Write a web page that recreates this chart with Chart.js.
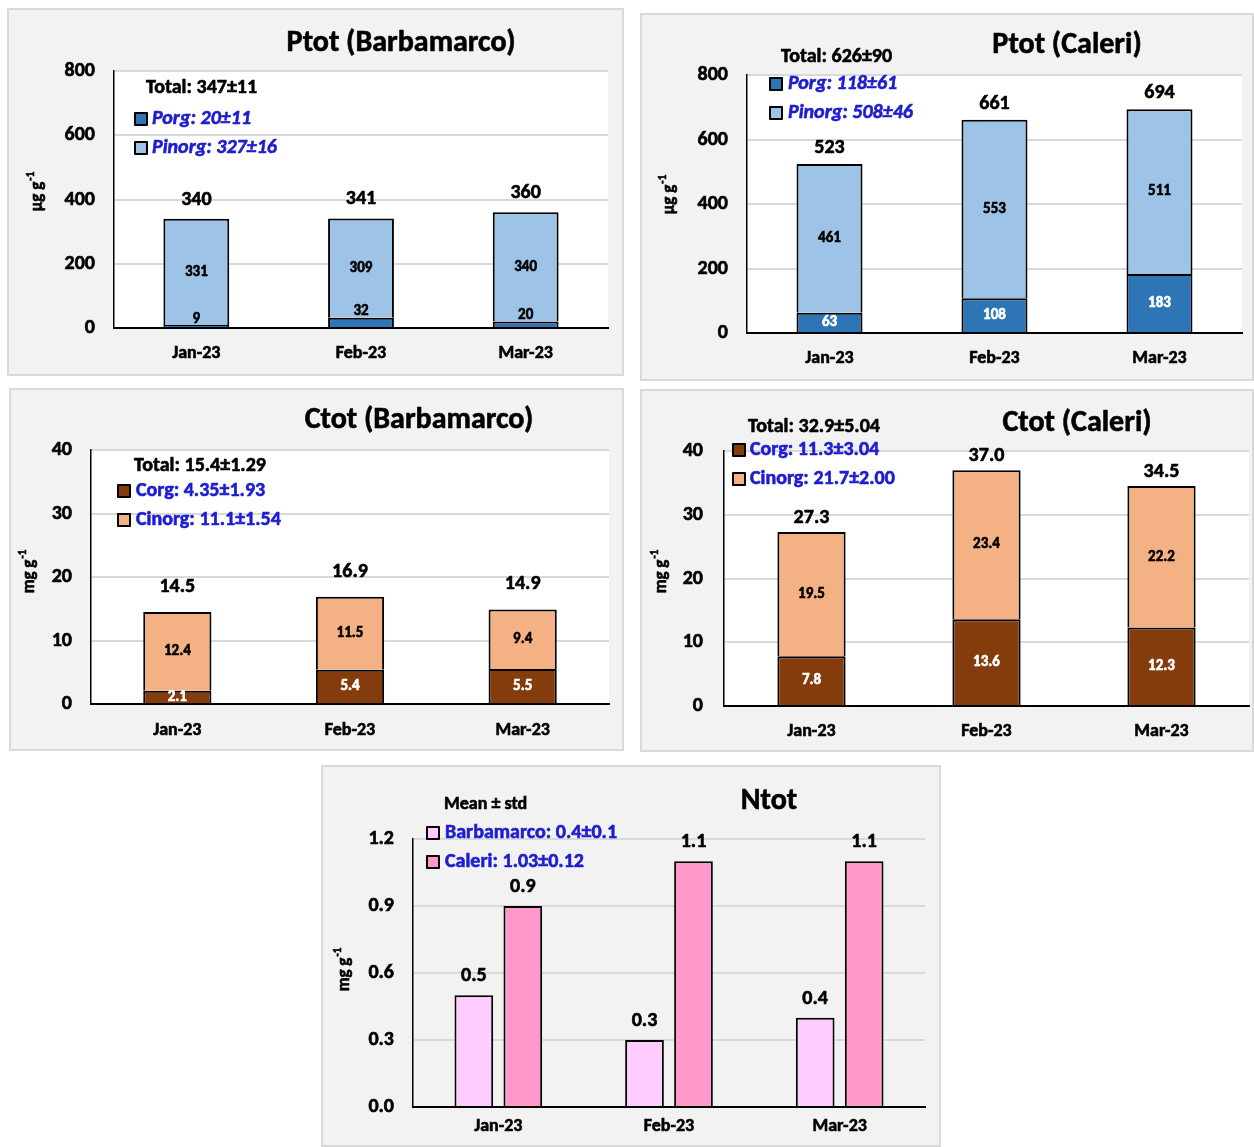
<!DOCTYPE html>
<html>
<head>
<meta charset="utf-8">
<script src="https://cdn.jsdelivr.net/npm/chart.js@4.4.1/dist/chart.umd.min.js"></script>
<style>
  html, body { margin: 0; padding: 0; background: #ffffff; }
  body { width: 1254px; height: 1147px; position: relative; overflow: hidden; }
  .panel { position: absolute; box-sizing: border-box; background: #f2f2f2; border: 2px solid #d9d9d9; }
  canvas { position: absolute; }
</style>
</head>
<body>
<script>
// ---- data ----
const months = ['Jan-23', 'Feb-23', 'Mar-23'];

const ptotBarbPorg   = [9, 32, 20];
const ptotBarbPinorg = [331, 309, 340];
const ptotBarbTotal  = [340, 341, 360];

const ptotCalPorg    = [63, 108, 183];
const ptotCalPinorg  = [461, 553, 511];
const ptotCalTotal   = [523, 661, 694];

const ctotBarbCorg   = [2.1, 5.4, 5.5];
const ctotBarbCinorg = [12.4, 11.5, 9.4];
const ctotBarbTotal  = [14.5, 16.9, 14.9];

const ctotCalCorg    = [7.8, 13.6, 12.3];
const ctotCalCinorg  = [19.5, 23.4, 22.2];
const ctotCalTotal   = [27.3, 37.0, 34.5];

const ntotBarb = [0.5, 0.3, 0.4];
const ntotCal  = [0.9, 1.1, 1.1];

const ptotTicks = [0, 200, 400, 600, 800];
const ctotTicks = [0, 10, 20, 30, 40];
const ntotTicks = [0.0, 0.3, 0.6, 0.9, 1.2];

// ---- styling ----
const FONT = 'Carlito, Calibri, Lato, sans-serif';
const BLUE_TEXT = '#1c1cd0';
const C_PORG = '#2e75b6', C_PINORG = '#9dc3e6';
const C_CORG = '#843c0c', C_CINORG = '#f4b183';
const C_NBARB = '#ffccff', C_NCAL = '#ff99cc';
const STROKE = 0.6;   // slight outline to give the bold text more weight

function font(size, style) {
  return (style || 'bold') + ' ' + size + 'px ' + FONT;
}

function drawText(ctx, s, x, y, color) {
  ctx.fillStyle = color;
  ctx.strokeStyle = color;
  ctx.lineWidth = STROKE;
  ctx.lineJoin = 'round';
  ctx.strokeText(s, x, y);
  ctx.fillText(s, x, y);
}

// Decoration plugin: white plot area, value labels, title, in-plot legend, unit label
function deco(cfg) {
  const ox = cfg.box.x, oy = cfg.box.y;
  return {
    id: 'deco',
    beforeDraw(chart) {
      if (!cfg.whiteArea) return;
      const a = chart.chartArea, ctx = chart.ctx;
      ctx.save();
      ctx.fillStyle = '#ffffff';
      ctx.fillRect(a.left, a.top, a.right - a.left, a.bottom - a.top);
      ctx.restore();
    },
    afterDatasetsDraw(chart) {
      const ctx = chart.ctx;
      ctx.save();
      ctx.textAlign = 'center';
      ctx.textBaseline = 'middle';
      chart.data.datasets.forEach((ds, di) => {
        const spec = cfg.labels[di];
        if (!spec) return;
        const meta = chart.getDatasetMeta(di);
        meta.data.forEach((el, i) => {
          const v = ds.data[i];
          const txt = spec.fmt ? spec.fmt(v) : String(v);
          const y = spec.mode === 'above' ? el.y - spec.offset : (el.y + el.base) / 2;
          ctx.font = font(spec.size);
          drawText(ctx, txt, el.x, y, spec.color);
        });
      });
      // stack totals
      if (cfg.totals) {
        const ys = chart.scales.y;
        const meta = chart.getDatasetMeta(0);
        ctx.font = font(20);
        cfg.totals.values.forEach((t, i) => {
          const x = meta.data[i].x;
          const y = ys.getPixelForValue(t) - cfg.totals.offset;
          drawText(ctx, cfg.totals.fmt ? cfg.totals.fmt(t) : String(t), x, y, '#000');
        });
      }
      ctx.restore();
    },
    afterDraw(chart) {
      const ctx = chart.ctx;
      ctx.save();
      // title
      ctx.font = font(cfg.title.size);
      ctx.textAlign = 'center';
      ctx.textBaseline = 'middle';
      drawText(ctx, cfg.title.text, cfg.title.x - ox, cfg.title.y - oy, '#000');
      // header line of the legend
      ctx.textAlign = 'left';
      ctx.font = font(cfg.head.size);
      drawText(ctx, cfg.head.text, cfg.head.x - ox, cfg.head.y - oy, '#000');
      // legend entries
      cfg.legend.forEach(e => {
        const mx = e.mx - ox, my = e.y - oy;
        ctx.fillStyle = e.color;
        ctx.fillRect(mx, my - 6, 12, 12);
        ctx.strokeStyle = '#000';
        ctx.lineWidth = 2;
        ctx.strokeRect(mx, my - 6, 12, 12);
        ctx.font = font(cfg.legendSize, cfg.legendItalic ? 'italic bold' : 'bold');
        drawText(ctx, e.text, e.tx - ox, my, BLUE_TEXT);
      });
      // rotated unit label with superscript
      ctx.translate(cfg.unit.x - ox, cfg.unit.y - oy);
      ctx.rotate(-Math.PI / 2);
      ctx.font = font(17);
      const w1 = ctx.measureText(cfg.unit.text).width;
      ctx.font = font(11);
      const w2 = ctx.measureText('-1').width;
      const start = -(w1 + w2) / 2;
      ctx.textAlign = 'left';
      ctx.font = font(17);
      drawText(ctx, cfg.unit.text, start, 0, '#000');
      ctx.font = font(11);
      drawText(ctx, '-1', start + w1 + 1, -7, '#000');
      ctx.restore();
    }
  };
}

function makePanel(cfg) {
  const div = document.createElement('div');
  div.className = 'panel';
  Object.assign(div.style, { left: cfg.box.x + 'px', top: cfg.box.y + 'px', width: cfg.box.w + 'px', height: cfg.box.h + 'px' });
  document.body.appendChild(div);
  const cv = document.createElement('canvas');
  cv.width = cfg.box.w; cv.height = cfg.box.h;
  Object.assign(cv.style, { left: cfg.box.x + 'px', top: cfg.box.y + 'px', width: cfg.box.w + 'px', height: cfg.box.h + 'px' });
  document.body.appendChild(cv);

  const a = cfg.area, b = cfg.box;
  const ticks = cfg.ticks;
  new Chart(cv.getContext('2d'), {
    type: 'bar',
    data: { labels: months, datasets: cfg.datasets },
    options: {
      responsive: false,
      animation: false,
      devicePixelRatio: 1,
      layout: { padding: { left: 0, bottom: 0, top: a.t - b.y, right: (b.x + b.w) - a.r } },
      plugins: { legend: { display: false }, tooltip: { enabled: false }, title: { display: false } },
      scales: {
        x: {
          stacked: cfg.stacked,
          grid: { display: false, drawTicks: false },
          border: { display: true, color: '#000', width: 2 },
          ticks: { color: '#000', font: { family: FONT, size: 18, weight: 'bold' }, padding: cfg.xPad,
                   textStrokeColor: '#000', textStrokeWidth: STROKE },
          afterFit(s) { s.height = (b.y + b.h) - a.b; }
        },
        y: {
          stacked: cfg.stacked,
          min: ticks[0],
          max: ticks[ticks.length - 1],
          afterBuildTicks(s) { s.ticks = ticks.map(v => ({ value: v })); },
          ticks: {
            color: '#000',
            font: { family: FONT, size: 20, weight: 'bold' },
            padding: cfg.yPad,
            textStrokeColor: '#000', textStrokeWidth: STROKE,
            callback: v => cfg.tickFmt ? cfg.tickFmt(v) : String(v)
          },
          grid: {
            drawTicks: false,
            lineWidth: 2,
            color: c => (c.tick && c.tick.value === 0) ? 'rgba(0,0,0,0)' : '#d9d9d9'
          },
          border: { display: true, color: '#000', width: 1.5 },
          afterFit(s) { s.width = a.l - b.x; }
        }
      }
    },
    plugins: [deco(cfg)]
  });
}

// bars outlined in black; the joint between stacked segments carries a single line
const BAR_BORDER = { top: 2, left: 2, right: 2, bottom: 0 };

function stackSet(label, data, color, pct) {
  return { label, data, backgroundColor: color, borderColor: '#000', borderWidth: BAR_BORDER, borderSkipped: false,
           categoryPercentage: 1.0, barPercentage: pct };
}

// Ptot (Barbamarco)
makePanel({
  box: { x: 7, y: 8, w: 617, h: 368 },
  area: { l: 114, t: 71, r: 608, b: 328 },
  whiteArea: true, stacked: true, ticks: ptotTicks, xPad: 15, yPad: 19,
  datasets: [stackSet('Porg', ptotBarbPorg, C_PORG, 0.4), stackSet('Pinorg', ptotBarbPinorg, C_PINORG, 0.4)],
  labels: [
    { mode: 'above', offset: 6, size: 15, color: '#000' },
    { mode: 'center', size: 15, color: '#000' }
  ],
  totals: { values: ptotBarbTotal, offset: 19 },
  title: { text: 'Ptot (Barbamarco)', x: 401, y: 43, size: 30 },
  head: { text: 'Total: 347±11', x: 146, y: 88, size: 20 },
  legendSize: 20, legendItalic: true,
  legend: [
    { text: 'Porg: 20±11', color: C_PORG, mx: 135, tx: 152, y: 119 },
    { text: 'Pinorg: 327±16', color: C_PINORG, mx: 135, tx: 152, y: 148 }
  ],
  unit: { text: 'µg g', x: 38, y: 192 }
});

// Ptot (Caleri)
makePanel({
  box: { x: 640, y: 13, w: 614, h: 368 },
  area: { l: 747, t: 75, r: 1242, b: 333 },
  whiteArea: true, stacked: true, ticks: ptotTicks, xPad: 15, yPad: 19,
  datasets: [stackSet('Porg', ptotCalPorg, C_PORG, 0.4), stackSet('Pinorg', ptotCalPinorg, C_PINORG, 0.4)],
  labels: [
    { mode: 'center', size: 15, color: '#ffffff' },
    { mode: 'center', size: 15, color: '#000' }
  ],
  totals: { values: ptotCalTotal, offset: 16 },
  title: { text: 'Ptot (Caleri)', x: 1067, y: 45, size: 30 },
  head: { text: 'Total: 626±90', x: 781, y: 57, size: 20 },
  legendSize: 20, legendItalic: true,
  legend: [
    { text: 'Porg: 118±61', color: C_PORG, mx: 770, tx: 788, y: 84 },
    { text: 'Pinorg: 508±46', color: C_PINORG, mx: 770, tx: 788, y: 113 }
  ],
  unit: { text: 'µg g', x: 670, y: 195 }
});

// Ctot (Barbamarco)
makePanel({
  box: { x: 9, y: 388, w: 615, h: 363 },
  area: { l: 91, t: 450, r: 609, b: 704 },
  whiteArea: true, stacked: true, ticks: ctotTicks, xPad: 16, yPad: 19,
  datasets: [stackSet('Corg', ctotBarbCorg, C_CORG, 0.395), stackSet('Cinorg', ctotBarbCinorg, C_CINORG, 0.395)],
  labels: [
    { mode: 'center', size: 15, color: '#ffffff', fmt: v => v.toFixed(1) },
    { mode: 'center', size: 15, color: '#000', fmt: v => v.toFixed(1) }
  ],
  totals: { values: ctotBarbTotal, offset: 25, fmt: v => v.toFixed(1) },
  title: { text: 'Ctot (Barbamarco)', x: 419, y: 420, size: 30 },
  head: { text: 'Total: 15.4±1.29', x: 134, y: 466, size: 20 },
  legendSize: 20, legendItalic: false,
  legend: [
    { text: 'Corg: 4.35±1.93', color: C_CORG, mx: 118, tx: 136, y: 491 },
    { text: 'Cinorg: 11.1±1.54', color: C_CINORG, mx: 118, tx: 136, y: 520 }
  ],
  unit: { text: 'mg g', x: 30, y: 572 }
});

// Ctot (Caleri)
makePanel({
  box: { x: 640, y: 389, w: 614, h: 363 },
  area: { l: 724, t: 451, r: 1249, b: 706 },
  whiteArea: true, stacked: true, ticks: ctotTicks, xPad: 15, yPad: 21,
  datasets: [stackSet('Corg', ctotCalCorg, C_CORG, 0.39), stackSet('Cinorg', ctotCalCinorg, C_CINORG, 0.39)],
  labels: [
    { mode: 'center', size: 15, color: '#ffffff', fmt: v => v.toFixed(1) },
    { mode: 'center', size: 15, color: '#000', fmt: v => v.toFixed(1) }
  ],
  totals: { values: ctotCalTotal, offset: 14, fmt: v => v.toFixed(1) },
  title: { text: 'Ctot (Caleri)', x: 1077, y: 423, size: 30 },
  head: { text: 'Total: 32.9±5.04', x: 748, y: 427, size: 20 },
  legendSize: 20, legendItalic: false,
  legend: [
    { text: 'Corg: 11.3±3.04', color: C_CORG, mx: 733, tx: 750, y: 450 },
    { text: 'Cinorg: 21.7±2.00', color: C_CINORG, mx: 733, tx: 750, y: 479 }
  ],
  unit: { text: 'mg g', x: 662, y: 572 }
});

// Ntot
makePanel({
  box: { x: 321, y: 765, w: 620, h: 382 },
  area: { l: 413, t: 839, r: 925, b: 1107 },
  whiteArea: false, stacked: false, ticks: ntotTicks, xPad: 9, yPad: 19,
  tickFmt: v => v.toFixed(1),
  datasets: [
    { label: 'Barbamarco', data: ntotBarb, backgroundColor: C_NBARB, borderColor: '#000', borderWidth: BAR_BORDER, borderSkipped: false, categoryPercentage: 0.574, barPercentage: 0.79 },
    { label: 'Caleri', data: ntotCal, backgroundColor: C_NCAL, borderColor: '#000', borderWidth: BAR_BORDER, borderSkipped: false, categoryPercentage: 0.574, barPercentage: 0.79 }
  ],
  labels: [
    { mode: 'above', offset: 19, size: 20, color: '#000', fmt: v => v.toFixed(1) },
    { mode: 'above', offset: 19, size: 20, color: '#000', fmt: v => v.toFixed(1) }
  ],
  title: { text: 'Ntot', x: 769, y: 801, size: 30 },
  head: { text: 'Mean ± std', x: 444, y: 804, size: 18 },
  legendSize: 20, legendItalic: false,
  legend: [
    { text: 'Barbamarco: 0.4±0.1', color: C_NBARB, mx: 427, tx: 445, y: 833 },
    { text: 'Caleri: 1.03±0.12', color: C_NCAL, mx: 427, tx: 445, y: 862 }
  ],
  unit: { text: 'mg g', x: 345, y: 970 }
});
</script>
</body>
</html>
